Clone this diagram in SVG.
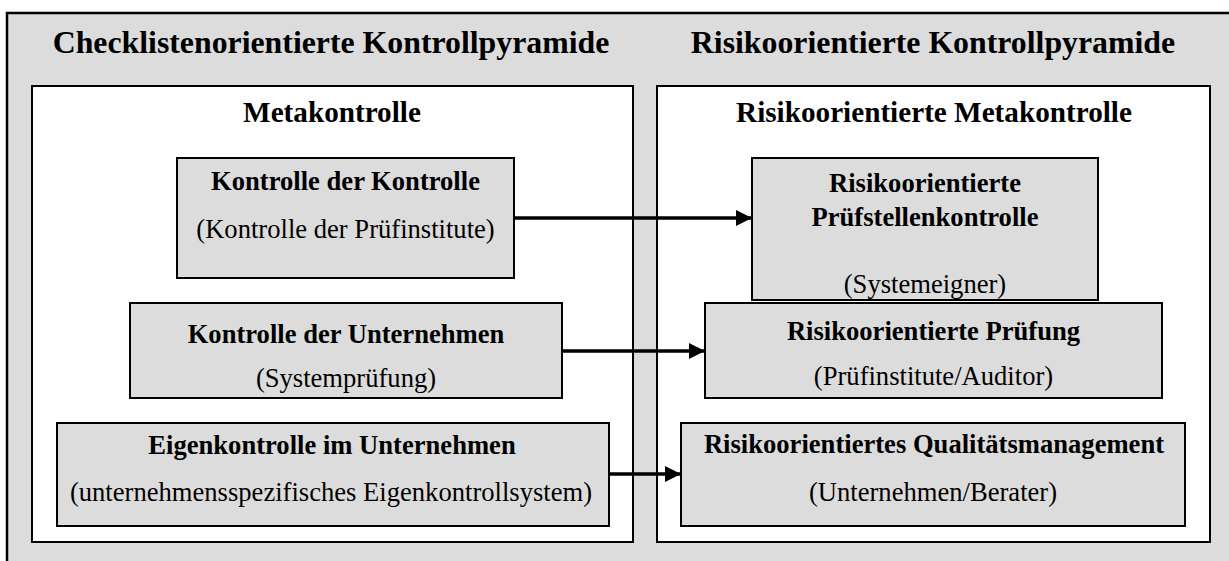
<svg xmlns="http://www.w3.org/2000/svg" width="1229" height="561" viewBox="0 0 1229 561">
<defs>
<style>
.bg{fill:#DCDCDC;stroke:#000;stroke-width:2.5}
.panel{fill:#FFFFFF;stroke:#000;stroke-width:2}
.node{fill:#DCDCDC;stroke:#000;stroke-width:2}
text{font-family:"Liberation Serif","Times New Roman",serif;fill:#000;text-anchor:middle}
.h1{font-size:31.8px;font-weight:bold}
.h2{font-size:29.2px;font-weight:bold}
.b{font-size:26.6px;font-weight:bold}
.r{font-size:26.6px}
.conn{stroke:#000;stroke-width:3.5;fill:none}
</style>
<marker id="arr" viewBox="0 0 16 16" refX="15" refY="8" markerWidth="16" markerHeight="16" markerUnits="userSpaceOnUse" orient="auto">
<path d="M0,0 L16,8 L0,16 Z" fill="#000"/>
</marker>
</defs>
<rect class="bg" x="7" y="13" width="1240" height="570"/>
<text class="h1" x="331" y="53">Checklistenorientierte Kontrollpyramide</text>
<text class="h1" x="933" y="53">Risikoorientierte Kontrollpyramide</text>
<g id="panel-left">
<rect class="panel" x="32" y="86" width="601" height="456"/>
<text class="h2" x="332" y="122">Metakontrolle</text>
</g>
<g id="panel-right">
<rect class="panel" x="657" y="86" width="553" height="456"/>
<text class="h2" x="934" y="122">Risikoorientierte Metakontrolle</text>
</g>
<g id="node-kdk">
<rect class="node" x="177" y="158" width="337" height="120"/>
<text class="b" x="345.5" y="190">Kontrolle der Kontrolle</text>
<text class="r" x="345.5" y="238">(Kontrolle der Prüfinstitute)</text>
</g>
<g id="node-kdu">
<rect class="node" x="130" y="303" width="432" height="95"/>
<text class="b" x="346" y="343">Kontrolle der Unternehmen</text>
<text class="r" x="346" y="387">(Systemprüfung)</text>
</g>
<g id="node-ek">
<rect class="node" x="57" y="423" width="552" height="103"/>
<text class="b" x="332" y="454">Eigenkontrolle im Unternehmen</text>
<text class="r" x="331" y="501">(unternehmensspezifisches Eigenkontrollsystem)</text>
</g>
<g id="node-psk">
<rect class="node" x="752" y="158" width="346" height="142"/>
<text class="b" x="925" y="192">Risikoorientierte</text>
<text class="b" x="925" y="226">Prüfstellenkontrolle</text>
<text class="r" x="925" y="293">(Systemeigner)</text>
</g>
<g id="node-rp">
<rect class="node" x="705" y="303" width="457" height="95"/>
<text class="b" x="933.5" y="340">Risikoorientierte Prüfung</text>
<text class="r" x="933.5" y="385">(Prüfinstitute/Auditor)</text>
</g>
<g id="node-rq">
<rect class="node" x="681" y="423" width="504" height="103"/>
<text class="b" x="934" y="453">Risikoorientiertes Qualitätsmanagement</text>
<text class="r" x="933" y="501">(Unternehmen/Berater)</text>
</g>
<g id="connectors">
<line class="conn" x1="514" y1="218" x2="751" y2="218" marker-end="url(#arr)"/>
<line class="conn" x1="562" y1="351" x2="704" y2="351" marker-end="url(#arr)"/>
<line class="conn" x1="609" y1="474" x2="680" y2="474" marker-end="url(#arr)"/>
</g>
</svg>
